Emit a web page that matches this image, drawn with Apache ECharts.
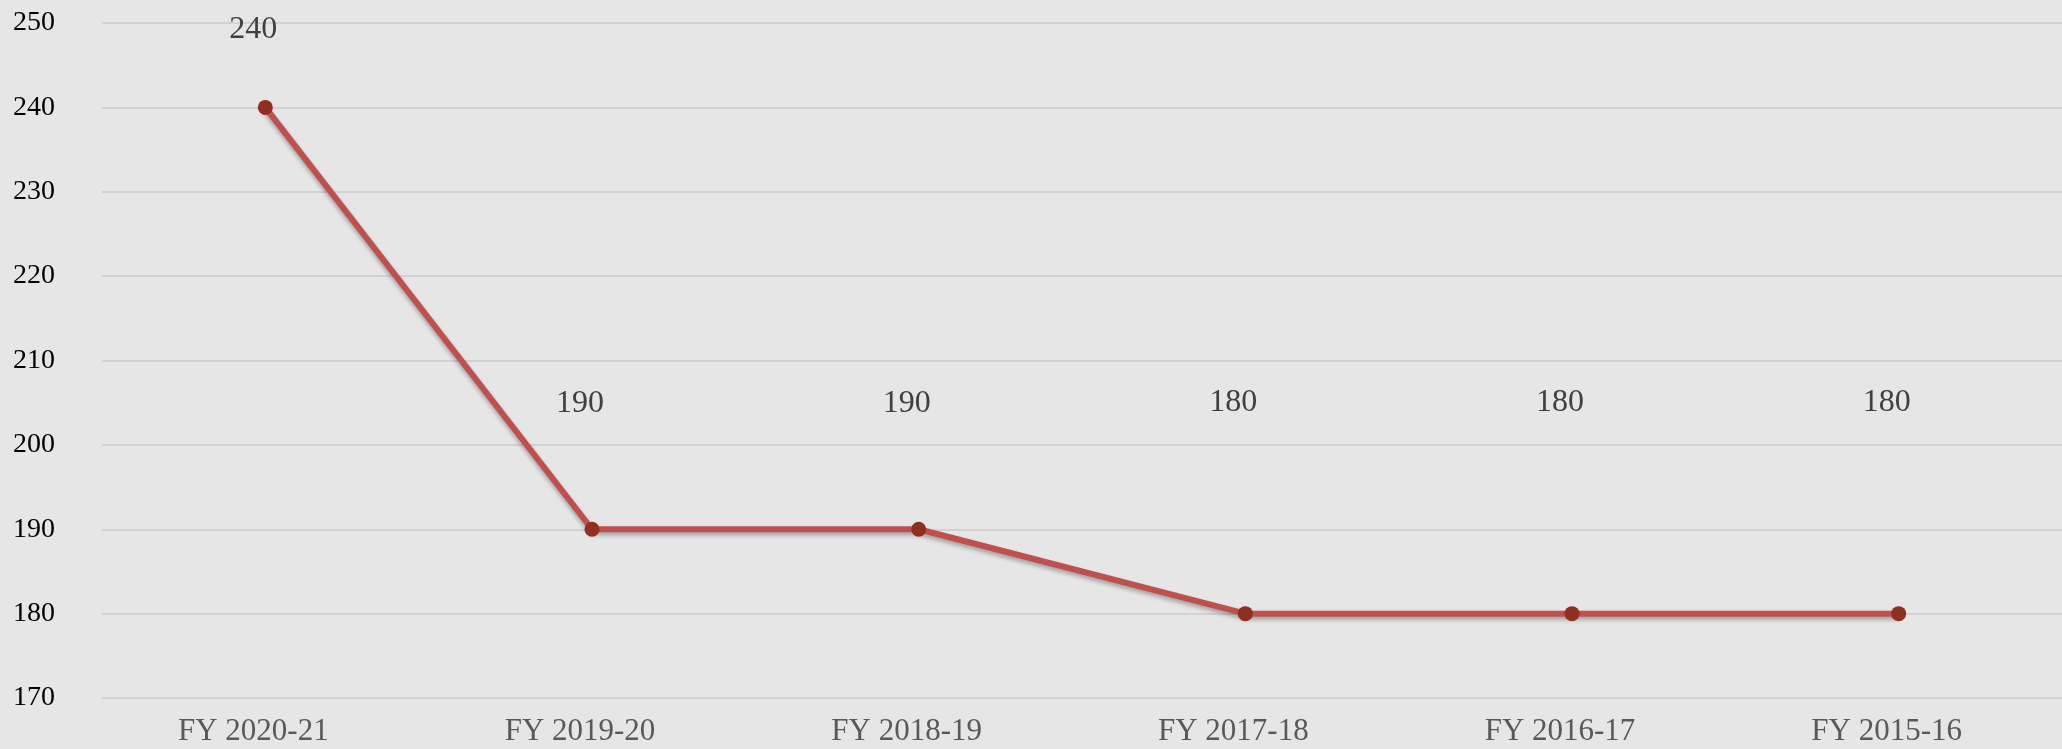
<!DOCTYPE html>
<html>
<head>
<meta charset="utf-8">
<script src="https://cdn.jsdelivr.net/npm/echarts@6/dist/echarts.min.js"></script>
<style>
    html, body {margin: 0; padding: 0; background: #e6e6e6;}
    #main {width: 2062px; height: 749px;}
</style>
</head>
<body>
<div id="main"></div>
<script>
    var years = ['FY 2020-21', 'FY 2019-20', 'FY 2018-19', 'FY 2017-18', 'FY 2016-17', 'FY 2015-16'];
    var values = [240, 190, 190, 180, 180, 180];
    var yMin = 170, yMax = 250, yStep = 10;

    var myChart = echarts.init(document.getElementById('main'));

    // labels sit at odd heights in the original, so nudge them per point
    var points = values.map(function (v) {
        var gap = v >= 240 ? 54 : (v >= 190 ? 102 : 188);
        return {value: v, label: {distance: gap}};
    });

    var option = {
        backgroundColor: '#e6e6e6',
        animation: false,
        grid: {
            left: 102,
            width: 1982,
            top: 23,
            bottom: 51
        },
        xAxis: {
            type: 'category',
            data: years,
            boundaryGap: true,
            axisLine: {show: false},
            axisTick: {show: false},
            axisLabel: {
                color: '#595959',
                fontFamily: 'Liberation Serif',
                fontSize: 31,
                margin: 18,
                padding: [0, 24, 0, 0],
                interval: 0
            }
        },
        yAxis: {
            type: 'value',
            min: yMin,
            max: yMax,
            interval: yStep,
            axisLine: {show: false},
            axisTick: {show: false},
            axisLabel: {
                color: '#000',
                fontFamily: 'Liberation Serif',
                fontSize: 28,
                align: 'left',
                margin: 89
            },
            splitLine: {
                lineStyle: {color: '#d2d2d2', width: 2}
            }
        },
        series: [
            {
                type: 'line',
                data: points,
                symbol: 'circle',
                symbolSize: 15,
                itemStyle: {color: '#8e2f1f'},
                lineStyle: {
                    color: '#c0504d',
                    width: 6,
                    shadowColor: 'rgba(0,0,0,0.3)',
                    shadowBlur: 4,
                    shadowOffsetY: 3
                },
                label: {
                    show: true,
                    position: 'top',
                    offset: [-12, 0],
                    color: '#404040',
                    fontFamily: 'Liberation Serif',
                    fontSize: 32
                }
            }
        ]
    };

    myChart.setOption(option);
</script>
</body>
</html>
